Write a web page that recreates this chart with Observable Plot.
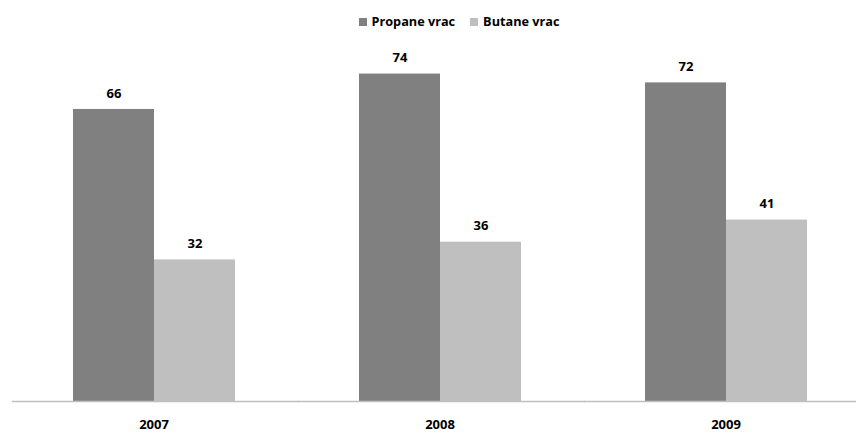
<!DOCTYPE html>
<html>
<head>
<meta charset="utf-8">
<script src="https://cdn.jsdelivr.net/npm/d3@7"></script>
<script src="https://cdn.jsdelivr.net/npm/@observablehq/plot@0.6"></script>
<style>
  html, body { margin: 0; padding: 0; background: #fff; }
  body { width: 856px; height: 434px; overflow: hidden; font-family: "Open Sans", sans-serif; }
  #legend { height: 40px; display: flex; justify-content: center; align-items: flex-start; box-sizing: border-box; padding-left: 62px; }
  .item { display: flex; align-items: center; margin-top: 12px; font-weight: bold; font-size: 12.7px; color: #000; line-height: 18px; }
  .sw { width: 8px; height: 8px; margin-right: 5px; margin-top: 2px; }
  .item + .item { margin-left: 15px; }
  #chart svg { display: block; }
</style>
</head>
<body>
<div id="legend"></div>
<div id="chart"></div>
<script>
const years = ["2007", "2008", "2009"];
const series = ["Propane vrac", "Butane vrac"];
const propane = [66, 74, 72];
const butane = [32, 36, 41];
const colors = ["#808080", "#bfbfbf"];

const data = [];
years.forEach((y, i) => {
  data.push({year: y, series: series[0], value: propane[i]});
  data.push({year: y, series: series[1], value: butane[i]});
});

const legend = document.getElementById("legend");
series.forEach((s, i) => {
  const it = document.createElement("div");
  it.className = "item";
  const sw = document.createElement("span");
  sw.className = "sw";
  sw.style.background = colors[i];
  it.appendChild(sw);
  it.appendChild(document.createTextNode(s));
  legend.appendChild(it);
});

const chart = Plot.plot({
  width: 856,
  height: 394,
  marginLeft: 22,
  marginRight: 0,
  marginTop: 7,
  marginBottom: 33,
  style: {fontFamily: "'Open Sans', sans-serif", background: "#fff", color: "#000"},
  fx: {domain: years, paddingInner: 0.2, paddingOuter: 0.053, label: null},
  x: {domain: series, paddingInner: 0, paddingOuter: 0.4086, axis: null},
  y: {domain: [0, 80], axis: null},
  color: {domain: series, range: colors},
  marks: [
    Plot.barY(data, {fx: "year", x: "series", y: "value", fill: "series"}),
    Plot.text(data, {fx: "year", x: "series", y: "value", text: d => String(d.value), dy: -16, fontWeight: "bold", fontSize: 13, fill: "#000"}),
    Plot.ruleY([0], {stroke: "#bfbfbf", strokeWidth: 1.3, insetLeft: -27.2, insetRight: -31}),
    Plot.axisFx({anchor: "bottom", tickSize: 0, tickPadding: 18, fontWeight: "bold", fontSize: 13, label: null})
  ]
});
document.getElementById("chart").appendChild(chart);
</script>
</body>
</html>
